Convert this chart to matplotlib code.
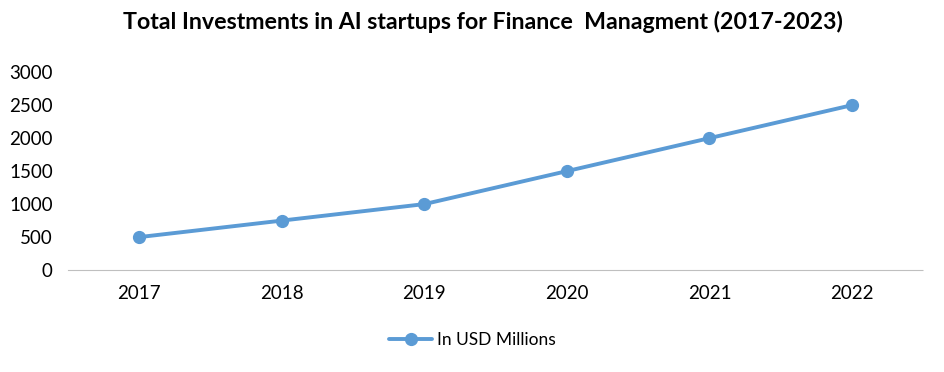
import matplotlib
matplotlib.use("Agg")
from matplotlib import pyplot as plt

years = ['2017', '2018', '2019', '2020', '2021', '2022']
investments = [500, 750, 1000, 1500, 2000, 2500]
y_ticks = [0, 500, 1000, 1500, 2000, 2500, 3000]

plt.rcParams['font.family'] = ['Lato', 'DejaVu Sans']

fig = plt.figure(figsize=(9.45, 3.72), dpi=100)
ax = fig.add_axes([0.072, 0.274, 0.905, 0.532])

x = range(len(years))
ax.plot(x, investments, color='#5B9BD5', linewidth=2.8, marker='o',
        markersize=8.5, label='In USD Millions', solid_capstyle='round')

ax.set_xlim(-0.5, len(years) - 0.5)
ax.set_ylim(0, 3000)
ax.set_xticks(list(x))
ax.set_xticklabels(years, fontsize=13.5)
ax.set_yticks(y_ticks)
ax.set_yticklabels([str(v) for v in y_ticks], fontsize=13.5)
ax.tick_params(length=0, pad=11)
ax.tick_params(axis='y', pad=11)

for side in ['top', 'right', 'left']:
    ax.spines[side].set_visible(False)
ax.spines['bottom'].set_color('#BFBFBF')
ax.spines['bottom'].set_linewidth(0.8)
ax.spines['bottom'].set_linestyle((0, (1, 1)))

fig.suptitle('Total Investments in AI startups for Finance  Managment (2017-2023)',
             fontsize=16.7, fontweight='bold', x=0.511, y=0.97)

fig.legend(loc='center', bbox_to_anchor=(0.5, 0.085), frameon=False,
           fontsize=12.5, handlelength=2.5, handletextpad=0.3)

fig.savefig('out.png', dpi=100)
